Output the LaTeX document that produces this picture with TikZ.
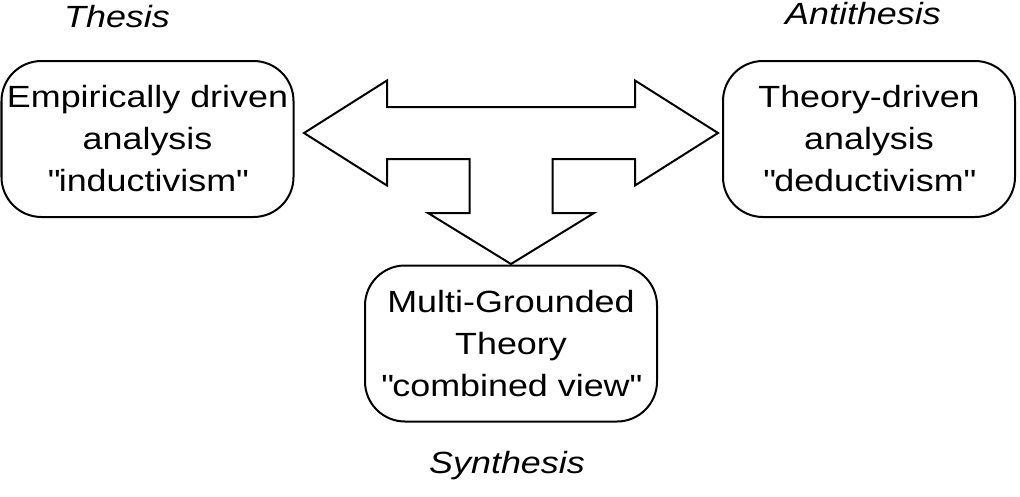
\documentclass[tikz,border=0pt]{standalone}
\usepackage{fontspec}
\setmainfont{Liberation Sans}[FakeStretch=1.17]
\usetikzlibrary{calc}
\begin{document}
\begin{tikzpicture}[x=0.75pt,y=-0.75pt,line width=1.5pt,
  stage/.style={draw,rounded corners=30pt,align=center,inner sep=0pt,
    minimum width=219pt,minimum height=117pt,
    font=\fontsize{23}{31.5}\selectfont},
  tag/.style={font=\fontsize{23}{28}\selectfont\itshape}]
\useasboundingbox (0,0) rectangle (1020,496);
\pgfmathsetmacro\cx{511}
\pgfmathsetmacro\ty{133}
\pgfmathsetmacro\hw{26}
\pgfmathsetmacro\hh{52.5}
\pgfmathsetmacro\tip{207}
\pgfmathsetmacro\hl{83}
\pgfmathsetmacro\sw{41.5}
\pgfmathsetmacro\sy{213}
\pgfmathsetmacro\dw{83}
\pgfmathsetmacro\dy{264}
\coordinate (L) at (\cx-\tip,\ty);
\coordinate (R) at (\cx+\tip,\ty);
\coordinate (D) at (\cx,\dy);
\node[stage] (thesis) at (147.5,139) {Empirically driven\\analysis\\\textquotedbl inductivism\textquotedbl};
\node[stage] (anti) at (869,139) {Theory-driven\\analysis\\\textquotedbl deductivism\textquotedbl};
\node[stage] (synth) at (511,343.5) {Multi-Grounded\\Theory\\\textquotedbl combined view\textquotedbl};
\node[tag] (thesislbl) at (117,17) {Thesis};
\node[tag] (antilbl) at (863,14) {Antithesis};
\node[tag] (synthlbl) at (507,466) {Synthesis};
% T-shaped block arrow
\draw[line join=miter] (L) -- (\cx-\tip+\hl,\ty-\hh) -- (\cx-\tip+\hl,\ty-\hw)
  -- (\cx+\tip-\hl,\ty-\hw) -- (\cx+\tip-\hl,\ty-\hh) -- (R)
  -- (\cx+\tip-\hl,\ty+\hh) -- (\cx+\tip-\hl,\ty+\hw)
  -- (\cx+\sw,\ty+\hw) -- (\cx+\sw,\sy) -- (\cx+\dw,\sy) -- (D)
  -- (\cx-\dw,\sy) -- (\cx-\sw,\sy) -- (\cx-\sw,\ty+\hw)
  -- (\cx-\tip+\hl,\ty+\hw) -- (\cx-\tip+\hl,\ty+\hh) -- cycle;
\end{tikzpicture}
\end{document}
